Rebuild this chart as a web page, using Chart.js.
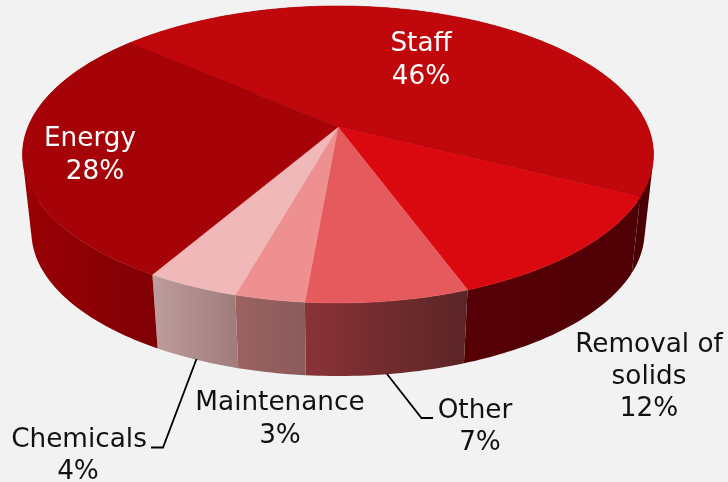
<!DOCTYPE html>
<html>
<head>
<meta charset="utf-8">
<title>Cost breakdown</title>
<script src="https://cdn.jsdelivr.net/npm/chart.js@4"></script>
<style>
  html, body { margin: 0; padding: 0; background: #f2f2f2; }
  canvas { display: block; }
</style>
</head>
<body>
<canvas id="pie" width="728" height="482"></canvas>
<script>
const categories = ['Staff', 'Removal of\nsolids', 'Other', 'Maintenance', 'Chemicals', 'Energy']
const shares = [46, 12, 7, 3, 4, 28]
const topColors = ['#bf070c', '#d9090f', '#e55a5d', '#ee9090', '#f0b8b8', '#a60308']
const sideLeftColors = ['#55000a', '#560006', '#8a3237', '#9c6262', '#be9d9d', '#990004']
const sideRightColors = ['#4a0004', '#4f0005', '#5a2526', '#8a5b5b', '#a07b7b', '#7f0004']

// where each label sits: centre x per line, first baseline, line step
const labelSpots = [
  { x: [421, 421], y: 51, step: 33, color: '#fff' },
  { x: [649, 649, 649], y: 352, step: 32, color: '#111' },
  { x: [475, 480], y: 418, step: 32, color: '#111' },
  { x: [280, 280], y: 410, step: 32.5, color: '#111' },
  { x: [79, 78], y: 447, step: 32, color: '#111' },
  { x: [90, 95], y: 146, step: 32.5, color: '#fff' },
]
const leaderLines = [
  [[196.5, 359], [163, 447.5], [151, 447.5]],
  [[387, 374], [421.5, 418], [433, 418]],
]

// tilted disc: apex of the slices, and how the lower rim shrinks
const apex = { x: 338, y: 127 }
const discA = 310
const discB = 143.4
const discK = -0.185
const rimScale = 0.972
const rimDrop = 78

function project(angle) {
  const u = Math.cos(angle)
  const v = Math.sin(angle)
  const w = 1 + discK * v
  return { x: (discA * u) / w, y: (discB * v) / w }
}

function topPoint(angle) {
  const p = project(angle)
  return [apex.x + p.x, apex.y + p.y]
}

function lowPoint(angle) {
  const p = project(angle)
  return [apex.x + p.x * rimScale, apex.y + p.y * rimScale + rimDrop]
}

function samples(arc) {
  const n = Math.max(8, Math.ceil((arc.endAngle - arc.startAngle) * 60))
  const out = []
  for (let i = 0; i <= n; i++) {
    out.push(arc.startAngle + ((arc.endAngle - arc.startAngle) * i) / n)
  }
  return out
}

function addPolygon(ctx, points) {
  points.forEach((p, i) => (i ? ctx.lineTo(p[0], p[1]) : ctx.moveTo(p[0], p[1])))
  ctx.closePath()
}

function signedArea(points) {
  let sum = 0
  points.forEach((p, i) => {
    const q = points[(i + 1) % points.length]
    sum += p[0] * q[1] - q[0] * p[1]
  })
  return sum
}

const tiltedPie = {
  id: 'tiltedPie',
  beforeDatasetsDraw(chart) {
    const ctx = chart.ctx
    const arcs = chart.getDatasetMeta(0).data
    ctx.save()

    arcs.forEach((arc, i) => {
      const angles = samples(arc)
      const upper = angles.map(topPoint)
      const lower = angles.map(lowPoint)
      const xs = upper.concat(lower).map((p) => p[0])
      const grad = ctx.createLinearGradient(Math.min(...xs), 0, Math.max(...xs), 0)
      grad.addColorStop(0, sideLeftColors[i])
      grad.addColorStop(1, sideRightColors[i])
      // the rim folds over itself at the far left and right, so one path of
      // quads that all wind the same way
      ctx.beginPath()
      for (let k = 0; k < angles.length - 1; k++) {
        const quad = [upper[k], upper[k + 1], lower[k + 1], lower[k]]
        addPolygon(ctx, signedArea(quad) < 0 ? quad.reverse() : quad)
      }
      ctx.fillStyle = grad
      ctx.fill()
    })

    arcs.forEach((arc) => {
      const rim = samples(arc).map(topPoint)
      ctx.beginPath()
      addPolygon(ctx, [[apex.x, apex.y]].concat(rim))
      ctx.fillStyle = arc.options.backgroundColor
      ctx.strokeStyle = arc.options.backgroundColor
      ctx.lineWidth = 0.6
      ctx.fill()
      ctx.stroke()
    })

    ctx.restore()
    return false
  },
  afterDraw(chart) {
    const ctx = chart.ctx
    ctx.save()
    ctx.strokeStyle = '#000'
    ctx.lineWidth = 1.8
    leaderLines.forEach((line) => {
      ctx.beginPath()
      line.forEach((p, i) => (i ? ctx.lineTo(p[0], p[1]) : ctx.moveTo(p[0], p[1])))
      ctx.stroke()
    })

    ctx.font = '26.3px "DejaVu Sans"'
    ctx.textAlign = 'center'
    ctx.textBaseline = 'alphabetic'
    categories.forEach((name, i) => {
      const spot = labelSpots[i]
      const lines = name.split('\n').concat(shares[i] + '%')
      ctx.fillStyle = spot.color
      lines.forEach((text, j) => {
        ctx.fillText(text, spot.x[j], spot.y + j * spot.step)
      })
    })
    ctx.restore()
  },
}

new Chart(document.getElementById('pie'), {
  type: 'pie',
  data: {
    labels: categories,
    datasets: [{ data: shares, backgroundColor: topColors, borderWidth: 0 }],
  },
  options: {
    responsive: false,
    animation: false,
    rotation: 311,
    plugins: {
      legend: false,
      tooltip: { enabled: false },
    },
  },
  plugins: [tiltedPie],
})
</script>
</body>
</html>
